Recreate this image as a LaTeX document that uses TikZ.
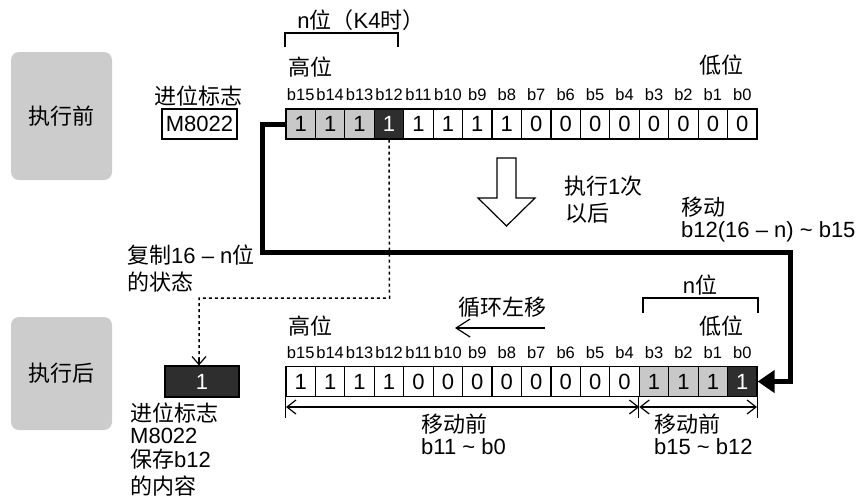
\documentclass[tikz,border=0pt]{standalone}
\usepackage{fontspec}
\setmainfont{Liberation Sans}
\newfontfamily\cjk{Noto Sans CJK SC}
\newcommand{\zh}[1]{{\cjk #1}}
\usetikzlibrary{arrows.meta}
\definecolor{lgrey}{HTML}{C8C8C8}
\definecolor{dgrey}{HTML}{2E2E2E}
\definecolor{boxgrey}{HTML}{CCCCCC}
\begin{document}
\begin{tikzpicture}[x=1pt,y=-1pt,
  txt/.style={inner sep=0pt, font=\fontsize{22}{26}\selectfont},
  bitlbl/.style={inner sep=0pt, font=\fontsize{16.5}{19}\selectfont},
  cell/.style={draw, line width=1.2pt, minimum width=29.44pt, minimum height=30pt, inner sep=0pt, font=\fontsize{22}{26}\selectfont},
  wc/.style={fill=white},
  lc/.style={fill=lgrey},
  dc/.style={fill=dgrey, text=white},
  stage/.style={fill=boxgrey, rounded corners=8pt, minimum width=101pt, inner sep=0pt, font=\fontsize{22}{26}\selectfont},
  thin/.style={line width=1.2pt},
  barb/.style={thin, {Straight Barb[length=9pt,width=14pt]}-{Straight Barb[length=9pt,width=14pt]}}
]
\path[use as bounding box] (0,0) rectangle (856,499);

% stage boxes
\node[stage, minimum height=128pt] (before) at (61.5,116) {\zh{执行前}};
\node[stage, minimum height=113pt] (after) at (61.5,373.5) {\zh{执行后}};

% top register
\foreach \v/\s [count=\k from 0] in {1/lc,1/lc,1/lc,1/dc,1/wc,1/wc,1/wc,1/wc,0/wc,0/wc,0/wc,0/wc,0/wc,0/wc,0/wc,0/wc} {
  \pgfmathtruncatemacro\j{15-\k}
  \node[cell,\s] (t\j) at ({286+29.44*(\k+0.5)},124) {\v};
  \node[bitlbl] (tl\j) at ({286+29.44*(\k+0.5)},95) {b\j};
}
% bottom register
\foreach \v/\s [count=\k from 0] in {1/wc,1/wc,1/wc,1/wc,0/wc,0/wc,0/wc,0/wc,0/wc,0/wc,0/wc,0/wc,1/lc,1/lc,1/lc,1/dc} {
  \pgfmathtruncatemacro\j{15-\k}
  \node[cell,\s] (b\j) at ({286+29.44*(\k+0.5)},381.5) {\v};
  \node[bitlbl] (bl\j) at ({286+29.44*(\k+0.5)},353) {b\j};
}

% top labels
\node[txt] (ntop) at (361,20) {n\zh{位（}K4\zh{时）}};
\draw[thin] (285,47) -- (285,33) -- (398,33) -- (398,47);
\node[txt] (hi1) at (310,67) {\zh{高位}};
\node[txt] (lo1) at (721.5,65) {\zh{低位}};
\node[txt] (cflbl) at (198,96) {\zh{进位标志}};
\node[draw, thin, txt, minimum width=75pt, minimum height=30pt] (m) at (199.5,124) {M8022};

% bottom labels
\node[txt] (nbot) at (700,285) {n\zh{位}};
\draw[thin] (643,313) -- (643,298) -- (758,298) -- (758,313);
\node[txt] (hi2) at (310,326) {\zh{高位}};
\node[txt] (lo2) at (721.5,326) {\zh{低位}};
\node[txt] (rot) at (502.5,307) {\zh{循环左移}};
\coordinate (ra) at (545,328);
\coordinate (rb) at (455,328);
\draw[thin, -{Straight Barb[length=14pt,width=18pt]}] (ra) -- (rb);

% hollow arrow
\draw[thin, fill=white] (497,158) -- (516,158) -- (516,198) -- (535,198) -- (506.5,226) -- (478,198) -- (497,198) -- cycle;
\node[txt, anchor=west] (ex1) at (564,186) {\zh{执行}1\zh{次}};
\node[txt, anchor=west] (ex2) at (565,213) {\zh{以后}};
\node[txt, anchor=west] (mv1) at (681,207) {\zh{移动}};
\node[txt, anchor=west] (mv2) at (681,232) {b12(16 – n) \textasciitilde{} b15};

% thick move line
\coordinate (p1) at (262,124);
\coordinate (p2) at (262,252);
\coordinate (p3) at (790,252);
\coordinate (p4) at (790,381.5);
\draw[line width=5pt, line join=miter, -{Triangle[length=17pt,width=22pt]}] (t15.west) -- (p1) -- (p2) -- (p3) -- (p4) -- (b0.east);

\node[txt, anchor=west] (cp1) at (127,255) {\zh{复制}16 – n\zh{位}};
\node[txt, anchor=west] (cp2) at (127,282) {\zh{的状态}};

% carry flag after
\node[cell, dc, minimum width=74pt, minimum height=31pt] (cf) at (202,381.5) {1};
\coordinate (d1) at (389.5,298);
\coordinate (d2) at (199,298);
\draw[line width=1.5pt, dash pattern=on 3pt off 3pt] (t12.south) -- (d1) -- (d2) -- (d2 |- cf.north);
\draw[thin, -{Straight Barb[length=8pt,width=14pt]}] (199,358) -- (d2 |- cf.north);
\node[txt, anchor=west] (c1) at (130,413) {\zh{进位标志}};
\node[txt, anchor=west] (c2) at (130,436) {M8022};
\node[txt, anchor=west] (c3) at (130,459) {\zh{保存}b12};
\node[txt, anchor=west] (c4) at (130,486) {\zh{的内容}};

% dimension lines
\draw[thin] (b15.south west) -- ++(0,21);
\draw[thin] (b3.south west) -- ++(0,21);
\draw[thin] (b0.south east) -- ++(0,21);
\coordinate (dl) at (286,407);
\coordinate (dm) at (639.3,407);
\coordinate (dr) at (757,407);
\draw[barb] (dl) -- (dm);
\draw[barb] (dm) -- (dr);
\node[txt, anchor=west] (bf1) at (421,424) {\zh{移动前}};
\node[txt, anchor=west] (bf2) at (421,447) {b11 \textasciitilde{} b0};
\node[txt, anchor=west] (bf3) at (654,424) {\zh{移动前}};
\node[txt, anchor=west] (bf4) at (654,447) {b15 \textasciitilde{} b12};
\end{tikzpicture}
\end{document}
